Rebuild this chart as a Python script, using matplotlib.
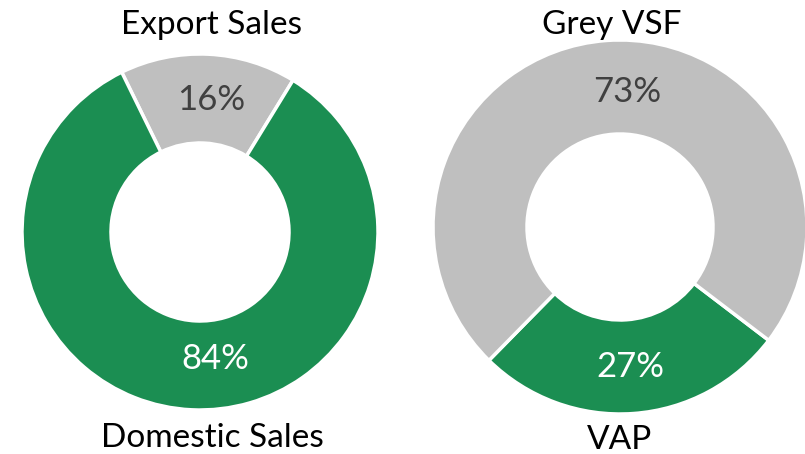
import matplotlib.pyplot as plt
from matplotlib.patches import Rectangle

# data
sales_labels = ["Export Sales", "Domestic Sales"]
sales_pct = [16, 84]
product_labels = ["Grey VSF", "VAP"]
product_pct = [73, 27]

GREEN = "#1B8E52"
GREY = "#BFBFBF"

plt.rcParams['font.family'] = ['Lato', 'DejaVu Sans']

fig = plt.figure(figsize=(8.05, 4.54), dpi=100)
ax = fig.add_axes([0, 0, 1, 1])

wedge = dict(edgecolor='white', linewidth=2.5)

# left donut: export slice centred at top
ax.pie(sales_pct, colors=[GREY, GREEN], startangle=58.5, counterclock=True,
       center=(200, 222), radius=178, wedgeprops=dict(width=89, **wedge),
       frame=True)

# right donut: VAP slice at bottom
ax.pie(product_pct[::-1], colors=[GREEN, GREY], startangle=225.5, counterclock=True,
       center=(620, 227), radius=187, wedgeprops=dict(width=94, **wedge),
       frame=True)

ax.set_xlim(0, 805)
ax.set_ylim(0, 454)
ax.set_aspect('equal')
ax.axis('off')

lab = dict(ha='center', va='center', fontsize=24, color='black')
ax.text(211, 429, sales_labels[0], **lab)
ax.text(212, 16, sales_labels[1], **lab)
t = ax.text(612, 429, product_labels[0], **lab)
# top of this title is cut off in the original
clip = Rectangle((420, 0), 385, 439, transform=ax.transData, visible=False)
ax.add_patch(clip)
t.set_clip_path(clip)
ax.text(620, 14, product_labels[1], **lab)

pct = dict(ha='center', va='center', fontsize=25)
ax.text(211, 354, f"{sales_pct[0]}%", color='#404040', **pct)
ax.text(215, 95, f"{sales_pct[1]}%", color='white', **pct)
ax.text(627, 362, f"{product_pct[0]}%", color='#404040', **pct)
ax.text(630, 87, f"{product_pct[1]}%", color='white', **pct)

fig.savefig("out.png", dpi=100)
